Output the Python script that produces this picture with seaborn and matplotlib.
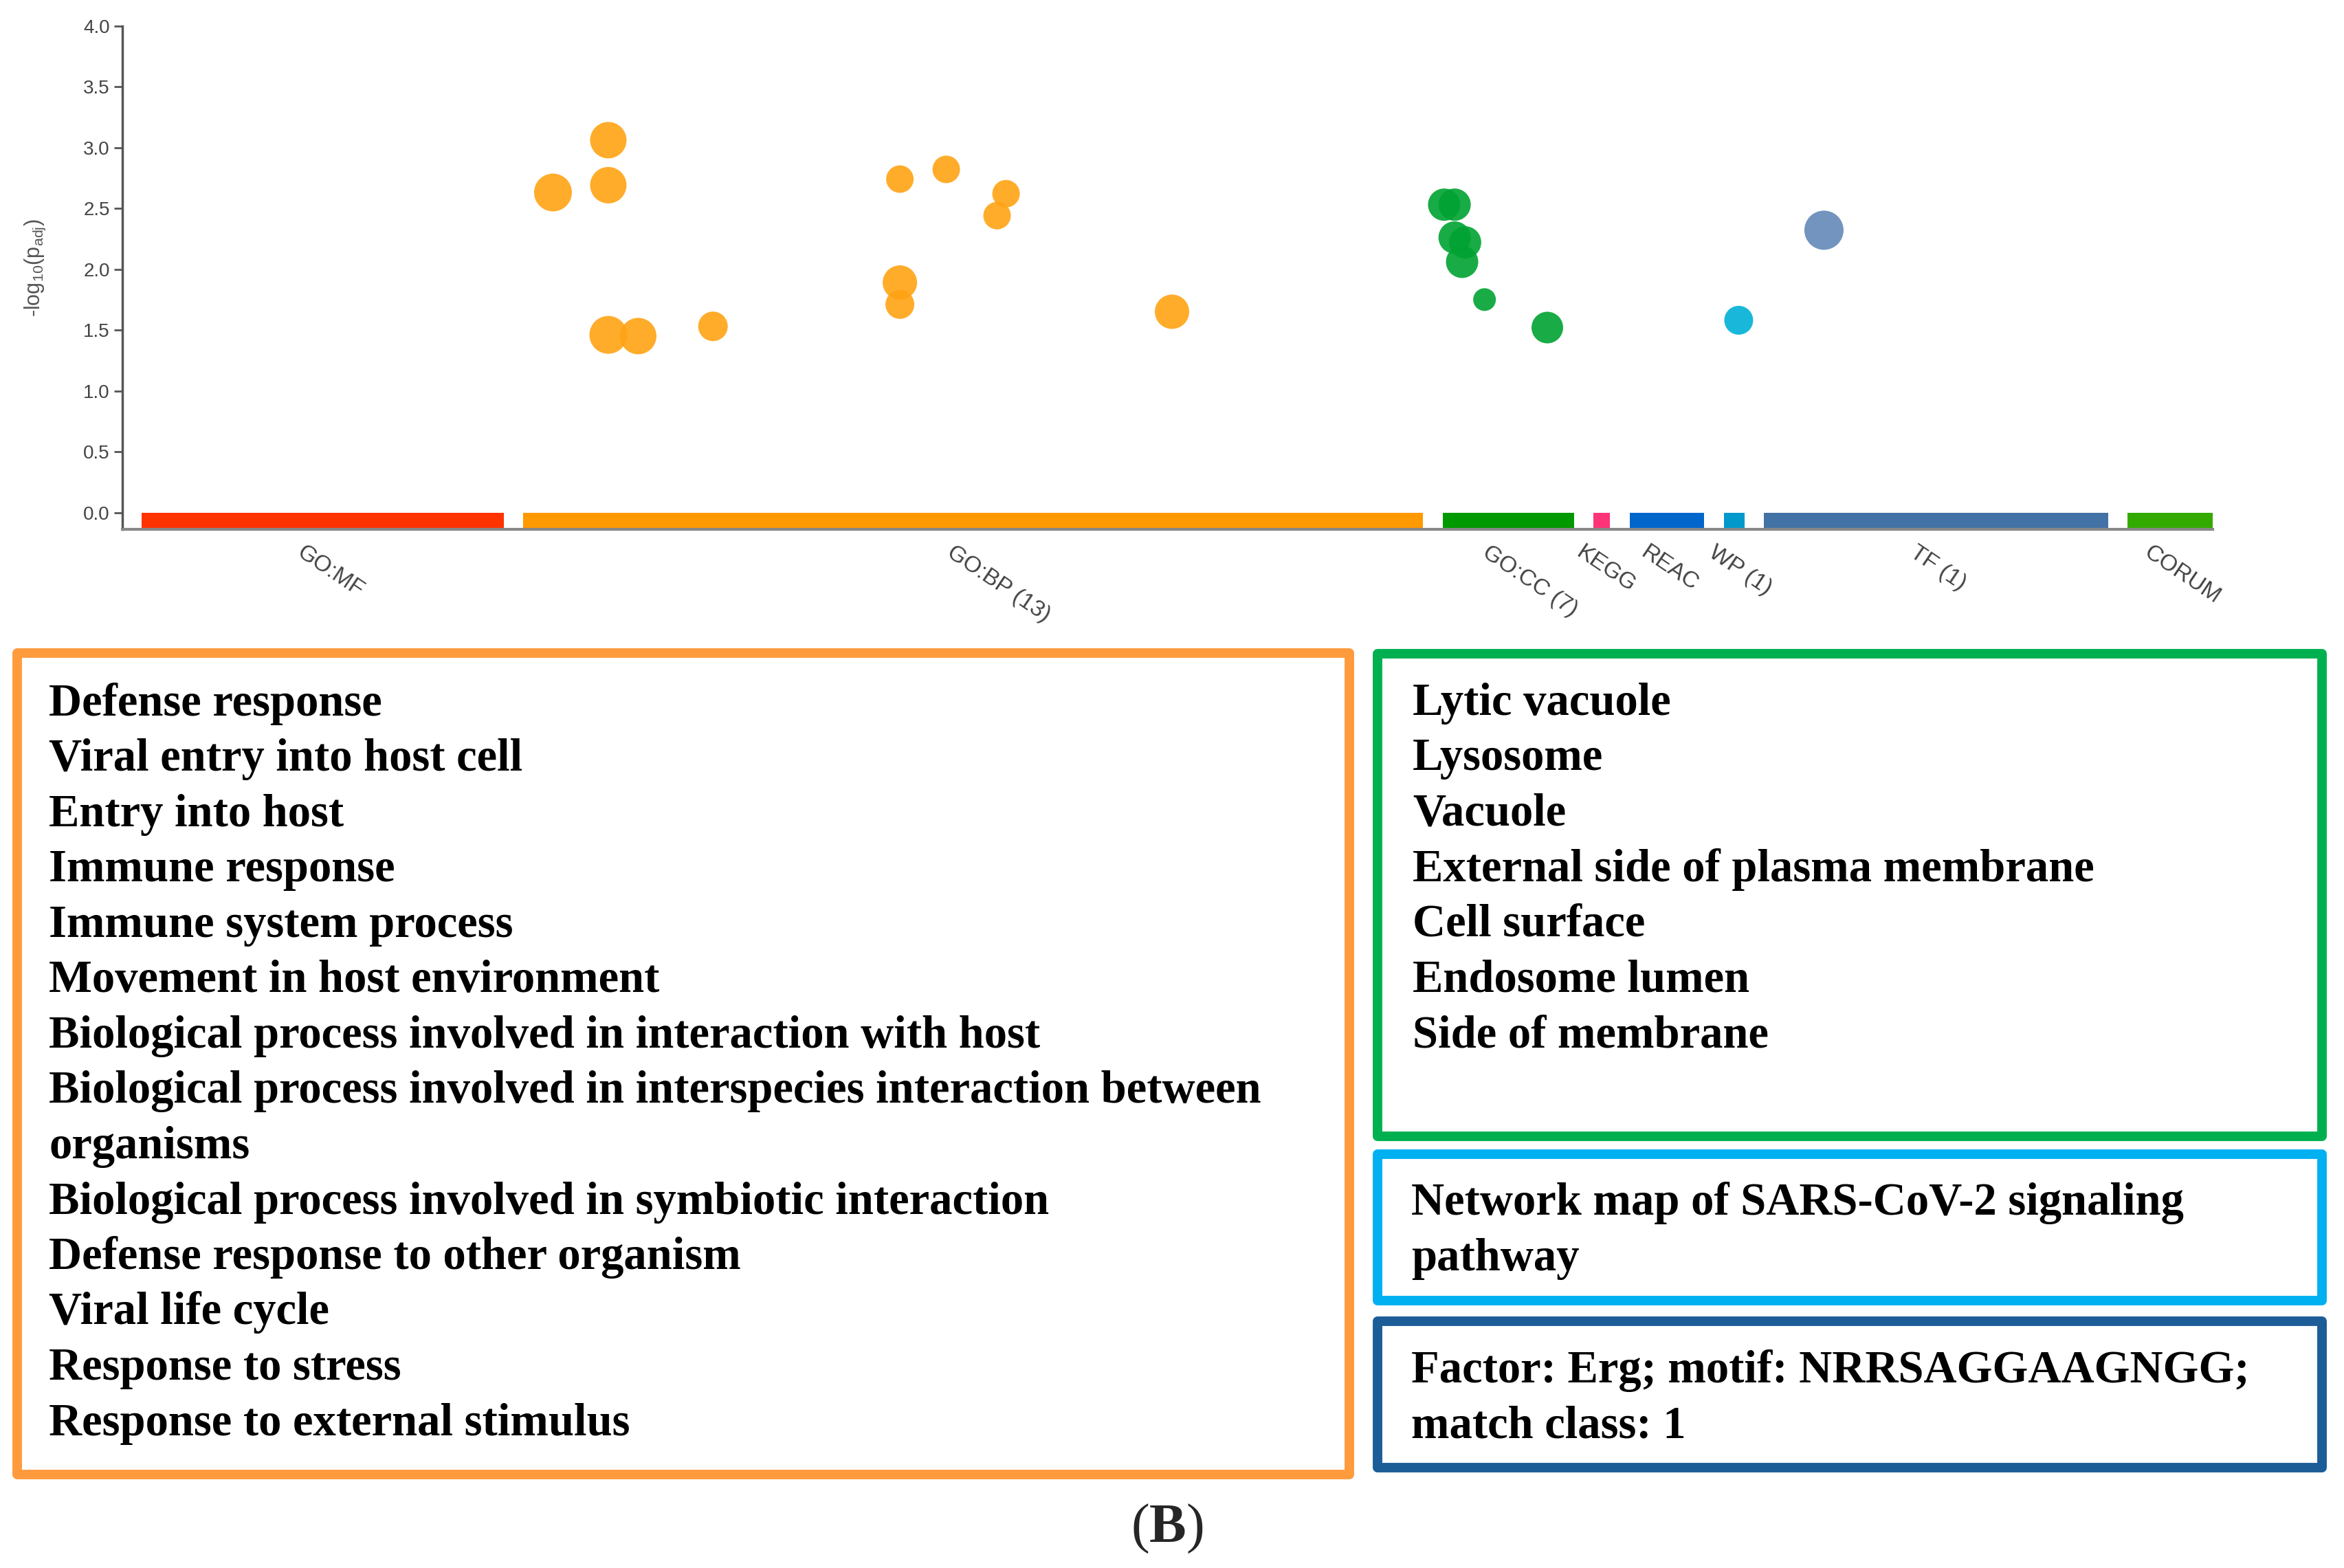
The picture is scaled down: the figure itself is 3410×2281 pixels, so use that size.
import seaborn as sns
import pandas as pd
import matplotlib.pyplot as plt
from matplotlib.patches import Rectangle
from matplotlib.transforms import ScaledTranslation

# Sources along the x axis (g:Profiler Manhattan plot), ranges in plot units
sources = ['GO:MF', 'GO:BP', 'GO:CC', 'KEGG', 'REAC', 'WP', 'TF', 'CORUM']
source_labels = ['GO:MF', 'GO:BP (13)', 'GO:CC (7)', 'KEGG', 'REAC', 'WP (1)', 'TF (1)', 'CORUM']
source_start = [13, 268, 883, 984, 1008, 1071, 1098, 1341]
source_end = [255, 870, 971, 995, 1058, 1085, 1328, 1398]

# Significant terms
term_source = ['GO:BP'] * 13 + ['GO:CC'] * 7 + ['WP', 'TF']
term_pos = [288, 325, 325, 325, 345, 395, 520, 551, 591, 585, 520, 520, 702,
            884, 891, 891, 898, 896, 911, 953,
            1081, 1138]
term_logp = [2.63, 3.06, 2.69, 1.46, 1.45, 1.53, 2.74, 2.82, 2.62, 2.44, 1.89, 1.71, 1.65,
             2.53, 2.53, 2.26, 2.22, 2.06, 1.75, 1.52,
             1.58, 2.32]
term_size = [55, 53, 53, 55, 53, 43, 40, 40, 40, 40, 50, 42, 50,
             47, 47, 47, 47, 47, 33, 46,
             42, 57]

# Term names listed in the boxes
bp_terms = ['Defense response',
            'Viral entry into host cell',
            'Entry into host',
            'Immune response',
            'Immune system process',
            'Movement in host environment',
            'Biological process involved in interaction with host',
            'Biological process involved in interspecies interaction between\norganisms',
            'Biological process involved in symbiotic interaction',
            'Defense response to other organism',
            'Viral life cycle',
            'Response to stress',
            'Response to external stimulus']
cc_terms = ['Lytic vacuole',
            'Lysosome',
            'Vacuole',
            'External side of plasma membrane',
            'Cell surface',
            'Endosome lumen',
            'Side of membrane']
wp_terms = ['Network map of SARS-CoV-2 signaling\npathway']
tf_terms = ['Factor: Erg; motif: NRRSAGGAAGNGG;\nmatch class: 1']

bar_colors = ['#ff3300', '#ff9900', '#009900', '#ff3377', '#0066cc', '#0099cc', '#4372a6', '#33aa00']
point_colors = {'GO:BP': '#ffa314', 'GO:CC': '#00a332', 'WP': '#00b1d8', 'TF': '#6388b8'}

df = pd.DataFrame({'source': term_source, 'pos': term_pos,
                   'logp': term_logp, 'size': term_size})

sns.set_theme(style='white')
plt.rcParams['font.family'] = ['Liberation Sans', 'DejaVu Sans']
plt.rcParams['mathtext.fontset'] = 'custom'
plt.rcParams['mathtext.rm'] = 'Liberation Serif'
plt.rcParams['mathtext.bf'] = 'Liberation Serif:bold'
plt.rcParams['mathtext.sf'] = 'Liberation Sans'

W, H = 3410, 2281
fig = plt.figure(figsize=(W / 100, H / 100), dpi=100, facecolor='white')
ax = fig.add_axes([178 / W, 1 - 770 / H, (3219 - 178) / W, (770 - 37.5) / H])

# source bars under the zero line
ax.bar(source_start, [-0.138] * len(sources),
       width=[e - s for s, e in zip(source_start, source_end)],
       bottom=0, align='edge', color=bar_colors, linewidth=0)

# circle diameter (px) -> marker area (pt^2)
size_map = {d: (d * 0.72) ** 2 for d in df['size'].unique()}
sns.scatterplot(data=df, x='pos', y='logp', hue='source', size='size',
                sizes=size_map, palette=point_colors, alpha=0.9,
                linewidth=0, legend=False, ax=ax, zorder=3)

ax.set_xlim(0, 1398)
ax.set_ylim(-0.138, 4.0)
ax.set_yticks([0, 0.5, 1, 1.5, 2, 2.5, 3, 3.5, 4])
ax.set_yticklabels(['0.0', '0.5', '1.0', '1.5', '2.0', '2.5', '3.0', '3.5', '4.0'])
ax.tick_params(axis='y', left=True, length=9, width=2, color='#555555',
               labelsize=20, labelcolor='#444444', pad=4)

centers = [(s + e) / 2 for s, e in zip(source_start, source_end)]
ax.set_xticks(centers)
ax.set_xticklabels(source_labels, rotation=-34, ha='left', va='top',
                   rotation_mode='anchor', fontsize=24, color='#444444')
ax.tick_params(axis='x', bottom=False, length=0, pad=13)
shift = ScaledTranslation(-26 / 100, 0, fig.dpi_scale_trans)
for lbl in ax.get_xticklabels():
    lbl.set_transform(lbl.get_transform() + shift)

ax.set_xlabel('')
ax.set_ylabel(r'-log$_{\mathsf{10}}$(p$_{\mathsf{adj}}$)', fontsize=22, color='#555555')
ax.yaxis.set_label_coords(-0.036, 0.52)

for side in ['top', 'right']:
    ax.spines[side].set_visible(False)
ax.spines['left'].set_color('#555555')
ax.spines['left'].set_linewidth(2.5)
ax.spines['bottom'].set_color('#888888')
ax.spines['bottom'].set_linewidth(3)
ax.grid(False)


def box(x0, y0, x1, y1, color):
    fig.patches.append(Rectangle((x0 / W, 1 - y1 / H), (x1 - x0) / W, (y1 - y0) / H,
                                 transform=fig.transFigure, fill=False,
                                 edgecolor=color, linewidth=10, joinstyle='round'))


def write_lines(terms, x, y0, step=80.5):
    lines = [ln for t in terms for ln in t.split('\n')]
    for i, ln in enumerate(lines):
        fig.text(x / W, 1 - (y0 + i * step) / H, ln, ha='left', va='baseline',
                 fontsize=48, fontweight='bold', family='Liberation Serif', color='black')


box(25, 950, 1963, 2145, '#ff9a3d')
box(2004, 951, 3378, 1653, '#00b050')
box(2004, 1679, 3378, 1892, '#00b0f0')
box(2004, 1922, 3378, 2135, '#1c5d98')

write_lines(bp_terms, 71, 1041)
write_lines(cc_terms, 2055, 1040)
write_lines(wp_terms, 2053, 1767)
write_lines(tf_terms, 2053, 2011)

fig.text(1698 / W, 1 - 2224 / H, r'($\mathbf{B}$)', ha='center', va='center',
         fontsize=58, family='Liberation Serif')

fig.savefig('out.png', dpi=100, facecolor='white')
